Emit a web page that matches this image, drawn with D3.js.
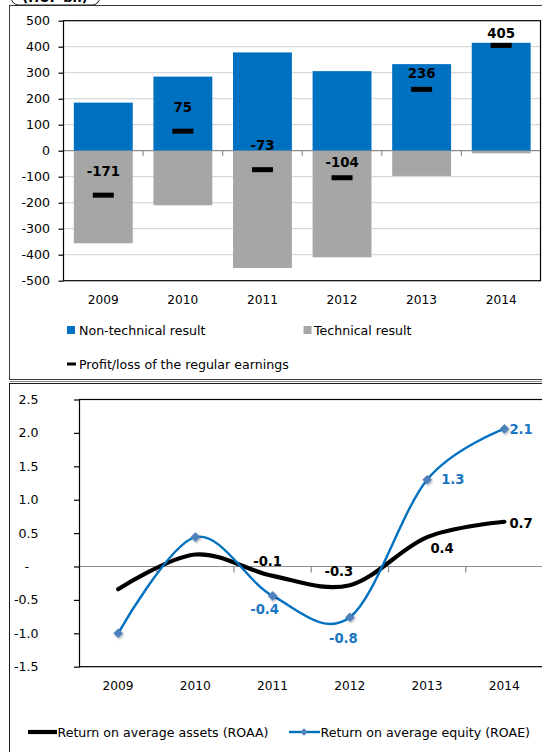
<!DOCTYPE html>
<html>
<head>
<meta charset="utf-8">
<script src="https://cdn.jsdelivr.net/npm/d3@7"></script>
<style>
  html, body { margin: 0; padding: 0; background: #fff; }
  svg { display: block; font-family: "DejaVu Sans", Verdana, sans-serif; }
</style>
</head>
<body>
<svg id="chart" width="542" height="752"></svg>
<script>
// ---- data -------------------------------------------------------------
const years = ["2009", "2010", "2011", "2012", "2013", "2014"];

// HUF bn
const nonTechnical   = [185, 285, 378, 306, 333, 415];
const technical      = [-356, -210, -451, -410, -97, -10];
const regularResult  = [-171, 75, -73, -104, 236, 405];
const resultTicks    = [500, 400, 300, 200, 100, 0, -100, -200, -300, -400, -500];

// percent
const roaa = [-0.34, 0.18, -0.14, -0.28, 0.44, 0.67];
const roae = [-1.00, 0.44, -0.44, -0.76, 1.30, 2.06];
const ratioTicks = [2.5, 2.0, 1.5, 1.0, 0.5, 0, -0.5, -1.0, -1.5];

const legendTop = ["Non-technical result", "Technical result", "Profit/loss of the regular earnings"];
const legendBottom = ["Return on average assets (ROAA)", "Return on average equity (ROAE)"];

// ---- styling ----------------------------------------------------------
const BLUE = "#0070C0";
const GREY = "#A6A6A6";
const LABEL_BLUE = "#1A75C4";
const MARKER_BLUE = "#4F81BD";
const FONT = 12.6;

const svg = d3.select("#chart");
const defs = svg.append("defs");
const shadow = defs.append("filter").attr("id", "mshadow")
  .attr("x", "-50%").attr("y", "-50%").attr("width", "200%").attr("height", "200%");
shadow.append("feDropShadow").attr("dx", 1).attr("dy", 1.2)
  .attr("stdDeviation", 1).attr("flood-color", "#000").attr("flood-opacity", 0.35);

// panel frames
svg.append("rect").attr("x", 9.5).attr("y", 5.5).attr("width", 545).attr("height", 374)
  .attr("fill", "none").attr("stroke", "#3a3a3a").attr("stroke-width", 1);
svg.append("line").attr("x1", 9.5).attr("x2", 560).attr("y1", 381.5).attr("y2", 381.5)
  .attr("stroke", "#8a8a8a").attr("stroke-width", 1);
svg.append("rect").attr("x", 9.5).attr("y", 383.5).attr("width", 545).attr("height", 400)
  .attr("fill", "none").attr("stroke", "#1a1a1a").attr("stroke-width", 1);

// unit caption box at the top edge
svg.append("rect").attr("x", 11.5).attr("y", -22).attr("width", 88).attr("height", 27)
  .attr("rx", 7).attr("fill", "#fff").attr("stroke", "#1a1a1a").attr("stroke-width", 1);
svg.append("text").attr("x", 55).attr("y", 1.5).attr("text-anchor", "middle")
  .attr("font-size", 13).attr("font-weight", "bold").attr("fill", "#000").text("(HUF bn)");

// ================= top panel: result components ========================
const boxTop = { left: 63.5, right: 541, top: 20.7, bottom: 280.7 };

const xTop = d3.scaleBand().domain(years).range([boxTop.left, boxTop.right])
  .paddingInner(0.26).paddingOuter(0.13);
const yTop = d3.scaleLinear().domain([-500, 500]).range([boxTop.bottom, boxTop.top]);

const gTop = svg.append("g");

// gridlines
gTop.append("g").selectAll("line").data(resultTicks.filter(d => d !== 0 && Math.abs(d) !== 500))
  .join("line")
  .attr("x1", boxTop.left).attr("x2", 540.5)
  .attr("y1", d => yTop(d)).attr("y2", d => yTop(d))
  .attr("stroke", "#D9D9D9").attr("stroke-width", 1.2);

// category axis along zero
gTop.append("line").attr("x1", boxTop.left).attr("x2", 540.5)
  .attr("y1", yTop(0)).attr("y2", yTop(0)).attr("stroke", "#8C8C8C").attr("stroke-width", 1.2);
const stepTop = xTop.step();
gTop.append("g").selectAll("line").data(years.slice(1))
  .join("line")
  .attr("x1", d => xTop(d) - stepTop * xTop.paddingInner() / 2)
  .attr("x2", d => xTop(d) - stepTop * xTop.paddingInner() / 2)
  .attr("y1", yTop(0)).attr("y2", yTop(0) + 5)
  .attr("stroke", "#8C8C8C").attr("stroke-width", 1.2);

// stacked bars
gTop.append("g").selectAll("rect").data(years)
  .join("rect")
  .attr("x", d => xTop(d)).attr("width", xTop.bandwidth())
  .attr("y", (d, i) => yTop(nonTechnical[i]))
  .attr("height", (d, i) => yTop(0) - yTop(nonTechnical[i]))
  .attr("fill", BLUE);
gTop.append("g").selectAll("rect").data(years)
  .join("rect")
  .attr("x", d => xTop(d)).attr("width", xTop.bandwidth())
  .attr("y", yTop(0))
  .attr("height", (d, i) => yTop(technical[i]) - yTop(0))
  .attr("fill", GREY);

// regular earnings markers and labels
const dashW = 21, dashH = 5;
const labelLift = [24, 24, 24, 16, 16, 12];
gTop.append("g").selectAll("rect").data(years)
  .join("rect")
  .attr("x", d => xTop(d) + xTop.bandwidth() / 2 - dashW / 2)
  .attr("y", (d, i) => yTop(regularResult[i]) - dashH / 2)
  .attr("width", dashW).attr("height", dashH).attr("fill", "#000");
gTop.append("g").selectAll("text").data(years)
  .join("text")
  .attr("x", d => xTop(d) + xTop.bandwidth() / 2)
  .attr("y", (d, i) => yTop(regularResult[i]) - labelLift[i])
  .attr("dy", "0.36em")
  .attr("text-anchor", "middle")
  .attr("font-size", 13.3).attr("font-weight", "bold").attr("fill", "#000")
  .text((d, i) => d3.format("d")(regularResult[i]).replace("−", "-"));

// plot border
gTop.append("rect").attr("x", boxTop.left).attr("y", boxTop.top)
  .attr("width", 540.5 - boxTop.left).attr("height", boxTop.bottom - boxTop.top)
  .attr("fill", "none").attr("stroke", "#000").attr("stroke-width", 1.2);

// value axis
const axTop = gTop.append("g").attr("transform", `translate(${boxTop.left},0)`)
  .call(d3.axisLeft(yTop).tickValues(resultTicks).tickSize(5).tickPadding(8.5)
    .tickFormat(d => String(d)));
axTop.select(".domain").remove();
axTop.selectAll("line").attr("stroke", "#000").attr("stroke-width", 1.2);
axTop.selectAll("text").attr("font-size", FONT).attr("fill", "#000")
  .attr("font-family", "DejaVu Sans");

// category labels
gTop.append("g").selectAll("text").data(years)
  .join("text")
  .attr("x", d => xTop(d) + xTop.bandwidth() / 2).attr("y", 300).attr("dy", "0.36em")
  .attr("text-anchor", "middle").attr("font-size", 12.2).attr("fill", "#000").text(d => d);

// legend
const lgTop = gTop.append("g").attr("font-size", FONT).attr("fill", "#000");
lgTop.append("rect").attr("x", 67).attr("y", 326).attr("width", 8).attr("height", 8).attr("fill", BLUE);
lgTop.append("text").attr("x", 79).attr("y", 330).attr("dy", "0.36em").text(legendTop[0]);
lgTop.append("rect").attr("x", 303.5).attr("y", 326).attr("width", 8).attr("height", 8).attr("fill", GREY);
lgTop.append("text").attr("x", 314).attr("y", 330).attr("dy", "0.36em").text(legendTop[1]);
lgTop.append("rect").attr("x", 67).attr("y", 362.5).attr("width", 9).attr("height", 3).attr("fill", "#000");
lgTop.append("text").attr("x", 79).attr("y", 364).attr("dy", "0.36em").text(legendTop[2]);

// ================= bottom panel: ROAA / ROAE ===========================
const boxBot = { left: 79.5, right: 543, top: 399.5, bottom: 666.7 };

const xBot = d3.scalePoint().domain(years).range([boxBot.left, boxBot.right]).padding(0.5);
const yBot = d3.scaleLinear().domain([-1.5, 2.5]).range([boxBot.bottom, boxBot.top]);
const gBot = svg.append("g");
const stepBot = xBot.step();

// category axis along zero
gBot.append("line").attr("x1", boxBot.left).attr("x2", 545)
  .attr("y1", yBot(0)).attr("y2", yBot(0)).attr("stroke", "#8C8C8C").attr("stroke-width", 1.2);
gBot.append("g").selectAll("line").data(years.slice(1))
  .join("line")
  .attr("x1", d => xBot(d) - stepBot / 2).attr("x2", d => xBot(d) - stepBot / 2)
  .attr("y1", yBot(0)).attr("y2", yBot(0) + 6)
  .attr("stroke", "#8C8C8C").attr("stroke-width", 1.2);

// plot border
gBot.append("rect").attr("x", boxBot.left).attr("y", boxBot.top)
  .attr("width", 560 - boxBot.left).attr("height", boxBot.bottom - boxBot.top)
  .attr("fill", "none").attr("stroke", "#000").attr("stroke-width", 1.2);

const smooth = d3.line()
  .x((d, i) => xBot(years[i])).y(d => yBot(d))
  .curve(d3.curveCatmullRom.alpha(0));

gBot.append("path").datum(roaa).attr("d", smooth)
  .attr("fill", "none").attr("stroke", "#000").attr("stroke-width", 4.2)
  .attr("stroke-linecap", "round");
gBot.append("path").datum(roae).attr("d", smooth)
  .attr("fill", "none").attr("stroke", BLUE).attr("stroke-width", 2.4);

const diamond = d3.symbol().type(d3.symbolDiamond2).size(58);
gBot.append("g").selectAll("path").data(roae)
  .join("path")
  .attr("transform", (d, i) => `translate(${xBot(years[i])},${yBot(d)})`)
  .attr("d", diamond).attr("fill", MARKER_BLUE).attr("filter", "url(#mshadow)");

// data labels: placement per point (above / below / right of the mark)
const fmt1 = d3.format(".1f");
const roaaPlace = [null, null, { dx: -5, dy: -15 }, { dx: -11, dy: -13.5 }, { dx: 15, dy: 11.5 }, { dx: 5, dy: 1.5, anchor: "start" }];
const roaePlace = [null, null, { dx: -8, dy: 13.5 }, { dx: -6.5, dy: 20.5 }, { dx: 14, dy: 0, anchor: "start" }, { dx: 5, dy: 0, anchor: "start" }];

function labelSeries(values, place, colour) {
  gBot.append("g").selectAll("text")
    .data(values.map((v, i) => ({ v, i, p: place[i] })).filter(d => d.p))
    .join("text")
    .attr("x", d => xBot(years[d.i]) + d.p.dx)
    .attr("y", d => yBot(d.v) + d.p.dy)
    .attr("dy", "0.36em")
    .attr("text-anchor", d => d.p.anchor || "middle")
    .attr("font-size", 13.2).attr("font-weight", "bold").attr("fill", colour)
    .text(d => fmt1(d.v).replace("−", "-"));
}
labelSeries(roaa, roaaPlace, "#000");
labelSeries(roae, roaePlace, LABEL_BLUE);

// value axis
const axBot = gBot.append("g").attr("transform", `translate(${boxBot.left},0)`)
  .call(d3.axisLeft(yBot).tickValues(ratioTicks).tickSize(5.5).tickPadding(35.5)
    .tickFormat(d => d === 0 ? "-" : fmt1(d).replace("−", "-")));
axBot.select(".domain").remove();
axBot.selectAll("line").attr("stroke", "#000").attr("stroke-width", 1.2);
axBot.selectAll("text").attr("font-size", FONT).attr("fill", "#000")
  .attr("font-family", "DejaVu Sans")
  .attr("dx", d => d === 0 ? -9.5 : 0);

// category labels
gBot.append("g").selectAll("text").data(years)
  .join("text")
  .attr("x", d => xBot(d)).attr("y", 686).attr("dy", "0.36em")
  .attr("text-anchor", "middle").attr("font-size", 12.2).attr("fill", "#000").text(d => d);

// legend
const lgBot = gBot.append("g").attr("font-size", FONT).attr("fill", "#000");
lgBot.append("line").attr("x1", 28).attr("x2", 57).attr("y1", 732).attr("y2", 732)
  .attr("stroke", "#000").attr("stroke-width", 4.2);
lgBot.append("text").attr("x", 57.5).attr("y", 732).attr("dy", "0.36em").text(legendBottom[0]);
lgBot.append("line").attr("x1", 289).attr("x2", 320).attr("y1", 732).attr("y2", 732)
  .attr("stroke", BLUE).attr("stroke-width", 2.4);
lgBot.append("path").attr("transform", "translate(304,732)")
  .attr("d", d3.symbol().type(d3.symbolDiamond2).size(36)).attr("fill", MARKER_BLUE);
lgBot.append("text").attr("x", 320.5).attr("y", 732).attr("dy", "0.36em").text(legendBottom[1]);
</script>
</body>
</html>
